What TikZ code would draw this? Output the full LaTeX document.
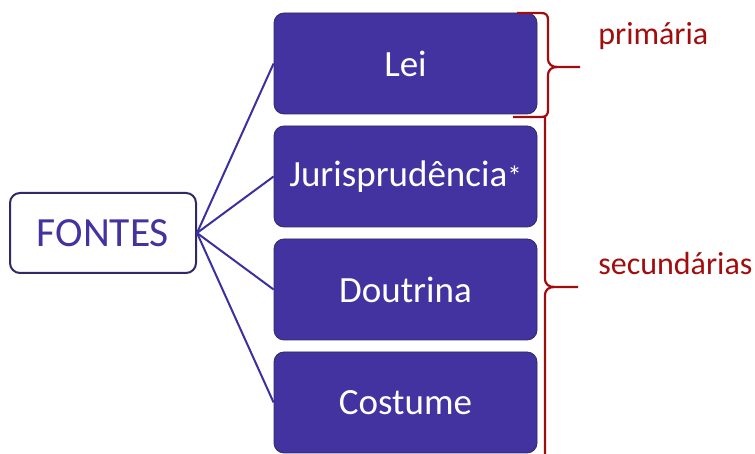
\documentclass[tikz,border=0pt]{standalone}
\usepackage{fontspec}
\setmainfont{Carlito}
\usetikzlibrary{positioning}

\definecolor{boxblue}{RGB}{66,51,160}
\definecolor{boxedge}{RGB}{48,42,100}
\definecolor{linkblue}{RGB}{60,48,160}
\definecolor{bracered}{RGB}{163,12,12}

\begin{document}
\begin{tikzpicture}[x=1pt,y=1pt,node distance=113pt,semithick]
   \tikzstyle{fonte}=[draw=boxedge,line width=0.8pt,fill=boxblue,text=white,
                      rounded corners=10pt,minimum width=263pt,minimum height=101pt,
                      font=\fontsize{37}{42}\selectfont]
   \tikzstyle{raiz}=[draw=boxedge,line width=2pt,fill=white,text=boxblue,
                     rounded corners=10pt,minimum width=186pt,minimum height=80pt,
                     font=\fontsize{41.5}{46}\selectfont]
   \tikzstyle{ramo}=[draw=linkblue,line width=2pt]
   \tikzstyle{chave}=[draw=bracered,line width=2.2pt]
   \tikzstyle{rotulo}=[text=bracered,font=\fontsize{32}{35}\selectfont,inner sep=0pt]

   \useasboundingbox (0,0) rectangle (755,454);

   \node[raiz]  (F) at (103,221)     {FONTES};
   \node[fonte] (L) at (405.5,390.5) {Lei};
   \node[fonte] (J) [below of=L]     {Jurisprudência{\fontsize{29}{29}\selectfont*}};
   \node[fonte] (D) [below of=J]     {Doutrina};
   \node[fonte] (C) [below of=D]     {Costume};

   \draw[ramo] (F.east) -- (L.west);
   \draw[ramo] (F.east) -- (J.west);
   \draw[ramo] (F.east) -- (D.west);
   \draw[ramo] (F.east) -- (C.west);

   % chaves
   \draw[chave] (517,441) -- (541,441) .. controls (546,441) and (548,439) .. (548,434)
      -- (548,396) .. controls (548,389) and (552,387) .. (558,387) -- (580,387)
      (558,387) .. controls (552,387) and (548,385) .. (548,378)
      -- (548,344) .. controls (548,339) and (546,337) .. (541,337) -- (513,337);
   \draw[chave] (545,337) -- (545,176) .. controls (545,169) and (549,167) .. (555,167) -- (578,167)
      (555,167) .. controls (549,167) and (545,165) .. (545,158) -- (545,-5);

   \node[rotulo,anchor=base west] (P) at (598,409) {primária};
   \node[rotulo,anchor=base west] (S) at (598,179) {secundárias};
\end{tikzpicture}
\end{document}
